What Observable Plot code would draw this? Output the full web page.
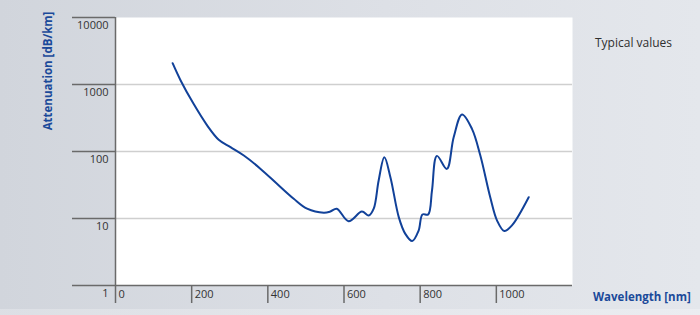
<!DOCTYPE html>
<html>
<head>
<meta charset="utf-8">
<script src="https://cdn.jsdelivr.net/npm/d3@7"></script>
<script src="https://cdn.jsdelivr.net/npm/@observablehq/plot@0.6"></script>
<style>
  html, body { margin: 0; padding: 0; }
  #wrap {
    position: relative; width: 700px; height: 315px; overflow: hidden;
    background: linear-gradient(to bottom, rgba(0,0,0,0) 0, rgba(0,0,0,0) 309px, rgba(255,255,255,0.25) 309px),
                linear-gradient(to right, #d1d5dc 0%, #dde0e6 55%, #e4e7ec 100%);
    font-family: "Open Sans", "Noto Sans", sans-serif;
  }
  #chart { position: absolute; left: 0; top: 0; }
  .lbl { position: absolute; white-space: nowrap; }
  #ylab {
    left: 47px; top: 71px; transform: translate(-50%, -50%) rotate(-90deg);
    color: #1b4a9a; font-weight: bold; font-size: 11.5px;
  }
  #xlab { left: 593px; top: 289px; color: #1b4a9a; font-weight: bold; font-size: 11.5px; }
  #note { left: 595px; top: 34px; color: #2f2f2f; font-size: 12px; }
</style>
</head>
<body>
<div id="wrap">
  <div id="chart"></div>
  <div class="lbl" id="ylab">Attenuation [dB/km]</div>
  <div class="lbl" id="xlab">Wavelength [nm]</div>
  <div class="lbl" id="note">Typical values</div>
</div>
<script>
// Wavelength (nm) and attenuation (dB/km)
const wavelength = [150, 171, 205, 241, 271, 302, 337, 381, 424, 468, 503, 547, 564, 581, 612, 647, 665, 678, 691, 706, 722, 744, 761, 779, 796, 806, 821, 831, 844, 870, 888, 910, 936, 958, 984, 1002, 1021, 1041, 1085];
const attenuation = [2080, 1150, 515, 244, 150, 116, 87, 55, 33, 19.7, 14, 12.2, 12.7, 14, 9.1, 12.7, 11.1, 14, 37, 82, 41, 10.4, 5.9, 4.6, 6.6, 11.5, 11.5, 26, 86, 55, 163, 357, 218, 87, 20.8, 9.3, 6.5, 7.9, 20.8];
const xTicks = [0, 200, 400, 600, 800, 1000];
const yTicks = [1, 10, 100, 1000, 10000];
const gridValues = [10, 100, 1000];

const data = wavelength.map((w, i) => ({w, a: attenuation[i]}));

const axisColor = "#6a6a6a";
const noText = () => "";
const chart = Plot.plot({
  width: 700,
  height: 315,
  marginLeft: 115,
  marginRight: 128,
  marginTop: 17,
  marginBottom: 30,
  style: {background: "transparent", fontFamily: "'Open Sans', 'Noto Sans', sans-serif", fontSize: "11px", color: "#333"},
  x: {domain: [0, 1200]},
  y: {type: "log", domain: [1, 10000]},
  marks: [
    Plot.frame({fill: "white", stroke: null}),
    Plot.ruleY(gridValues, {stroke: "#cfcfcf", strokeWidth: 1.3}),
    Plot.line(data, {x: "w", y: "a", stroke: "#114199", strokeWidth: 2, curve: "catmull-rom"}),
    Plot.ruleY([1], {stroke: axisColor, strokeWidth: 1.5}),
    Plot.ruleX([0], {stroke: axisColor, strokeWidth: 1.5}),
    // y tick lines extending left of the frame
    Plot.axisY({ticks: yTicks, tickFormat: noText, tickSize: 43, stroke: axisColor, strokeWidth: 1.5, strokeOpacity: 1, label: null}),
    // y tick labels hanging just below each line
    Plot.text(yTicks, {y: d => d, text: d => String(d), frameAnchor: "left", textAnchor: "end", dx: -7, dy: 8, fill: "#333", fontSize: 11}),
    // x tick lines
    Plot.axisX({ticks: xTicks, tickFormat: noText, tickSize: 18, stroke: axisColor, strokeWidth: 1.5, strokeOpacity: 1, label: null}),
    // x tick labels, right of each tick
    Plot.axisX({ticks: xTicks, tickFormat: d => String(d), tickSize: 0, tickPadding: 5, textAnchor: "start", dx: 3, label: null, fill: "#333"})
  ]
});
document.getElementById("chart").appendChild(chart);
</script>
</body>
</html>
